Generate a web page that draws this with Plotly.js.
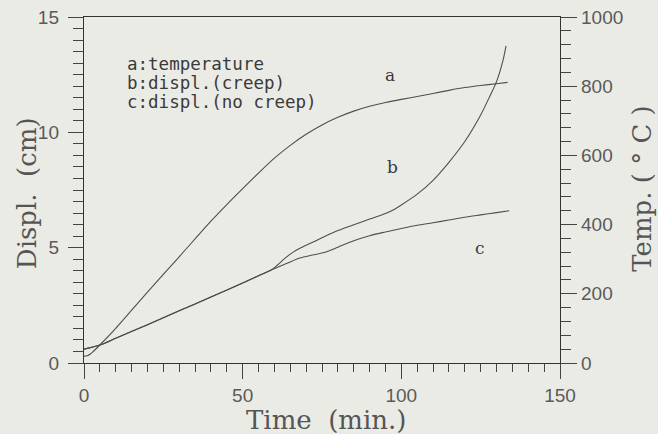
<!DOCTYPE html>
<html>
<head>
<meta charset="utf-8">
<script src="https://cdn.plot.ly/plotly-3.0.1.min.js"></script>
<style>html,body{margin:0;padding:0;background:#ebebe6;}</style>
</head>
<body>
<div id="chart" style="width:658px;height:434px;"></div>
<script>
// Temperature (a), right axis, °C
var timeTemp = [0, 1, 2, 3, 5, 10, 20, 30, 40, 45, 50, 55, 60, 65, 70, 75, 80, 85, 90, 95, 100, 105, 110, 115, 120, 125, 130, 133.5];
var temperature = [20, 21, 26, 34, 52, 100, 205, 307, 410, 458, 504, 549, 592, 629, 661, 688, 710, 728, 742, 753, 762, 770, 779, 788, 796, 802, 807, 811];

// Displacement with creep (b), left axis, cm
var timeCreep = [0, 5, 10, 20, 30, 40, 50, 55, 59, 61, 63, 65, 67, 70, 75, 80, 85, 90, 95, 98, 100, 105, 110, 115, 120, 125, 128, 130, 132, 133];
var displCreep = [0.6, 0.78, 1.07, 1.66, 2.26, 2.86, 3.47, 3.78, 4.03, 4.25, 4.5, 4.72, 4.9, 5.1, 5.43, 5.74, 5.99, 6.24, 6.48, 6.68, 6.85, 7.32, 7.92, 8.7, 9.6, 10.75, 11.6, 12.2, 13.1, 13.75];

// Displacement without creep (c), left axis, cm
var timeNoCreep = [0, 5, 10, 20, 30, 40, 50, 55, 59, 64, 68, 72, 76, 80, 85, 90, 95, 100, 105, 110, 115, 120, 125, 130, 134];
var displNoCreep = [0.6, 0.78, 1.07, 1.66, 2.26, 2.86, 3.47, 3.78, 4.03, 4.32, 4.55, 4.68, 4.8, 5.02, 5.3, 5.52, 5.68, 5.83, 5.97, 6.08, 6.2, 6.32, 6.42, 6.52, 6.6];

var legendLines = ["a:temperature", "b:displ.(creep)", "c:displ.(no creep)"];
var curveLabels = ["a", "b", "c"];

var lineStyle = {color: '#4e4e4e', width: 1.1, shape: 'spline', smoothing: 0.8};

var traces = [
  {x: timeTemp, y: temperature, yaxis: 'y2', mode: 'lines', line: lineStyle, hoverinfo: 'skip'},
  {x: timeCreep, y: displCreep, mode: 'lines', line: lineStyle, hoverinfo: 'skip'},
  {x: timeNoCreep, y: displNoCreep, mode: 'lines', line: lineStyle, hoverinfo: 'skip'}
];

var tickFont = {family: 'Liberation Sans, Arial, sans-serif', size: 19, color: '#5a5a5a'};
var titleFont = {family: 'DejaVu Serif, serif', size: 26, color: '#555'};
var monoFont = {family: 'DejaVu Sans Mono, monospace', size: 17.5, color: '#3a3a3a'};
var labelFont = {family: 'DejaVu Serif, serif', size: 17, color: '#3a3a3a'};

var legendY = [0.8633, 0.8092, 0.7543];
var labelPos = [[0.643, 0.832], [0.649, 0.5665], [0.832, 0.332]];

var annotations = [];
legendLines.forEach(function (t, i) {
  annotations.push({text: t, xref: 'paper', yref: 'paper', x: 0.0861, y: legendY[i],
    xanchor: 'left', yanchor: 'middle', showarrow: false, font: monoFont});
});
curveLabels.forEach(function (t, i) {
  annotations.push({text: t, xref: 'paper', yref: 'paper', x: labelPos[i][0], y: labelPos[i][1],
    xanchor: 'center', yanchor: 'middle', showarrow: false, font: labelFont});
});
annotations.push({text: 'Time  (min.)', xref: 'paper', yref: 'paper', x: 0.5095, y: -0.1647,
  xanchor: 'center', yanchor: 'middle', showarrow: false, font: titleFont});
annotations.push({text: 'Displ.  (cm)', xref: 'paper', yref: 'paper', x: -0.1197, y: 0.491,
  xanchor: 'center', yanchor: 'middle', showarrow: false, textangle: -90, font: titleFont});
annotations.push({text: 'Temp. ( ° C )', xref: 'paper', yref: 'paper', x: 1.172, y: 0.506,
  xanchor: 'center', yanchor: 'middle', showarrow: false, textangle: -90, font: titleFont});

var layout = {
  width: 658, height: 434,
  margin: {l: 84, r: 98, t: 17, b: 71, pad: 0},
  paper_bgcolor: '#ebebe6', plot_bgcolor: '#ebebe6',
  showlegend: false,
  xaxis: {
    range: [0, 150], dtick: 50, tick0: 0, showgrid: false, zeroline: false,
    showline: true, linecolor: '#333', linewidth: 1.2, mirror: true,
    ticks: 'outside', ticklen: 15, tickcolor: '#444', tickwidth: 1,
    tickfont: tickFont,
    minor: {dtick: 5, tick0: 0, ticks: 'outside', ticklen: 8, tickcolor: '#444', tickwidth: 1, showgrid: false}
  },
  yaxis: {
    range: [0, 15], dtick: 5, tick0: 0, showgrid: false, zeroline: false,
    showline: true, linecolor: '#333', linewidth: 1.2,
    ticks: 'outside', ticklen: 15, tickcolor: '#444', tickwidth: 1,
    tickfont: tickFont, ticklabelstandoff: 5,
    minor: {dtick: 0.5, tick0: 0, ticks: 'outside', ticklen: 10, tickcolor: '#444', tickwidth: 1, showgrid: false}
  },
  yaxis2: {
    range: [0, 1000], dtick: 200, tick0: 0, overlaying: 'y', side: 'right', anchor: 'x',
    showgrid: false, zeroline: false,
    showline: true, linecolor: '#333', linewidth: 1.2,
    ticks: 'outside', ticklen: 16, tickcolor: '#444', tickwidth: 1,
    tickfont: tickFont,
    minor: {dtick: 40, tick0: 0, ticks: 'outside', ticklen: 10, tickcolor: '#444', tickwidth: 1, showgrid: false}
  },
  annotations: annotations
};

Plotly.newPlot('chart', traces, layout, {displayModeBar: false, staticPlot: true});
</script>
</body>
</html>
